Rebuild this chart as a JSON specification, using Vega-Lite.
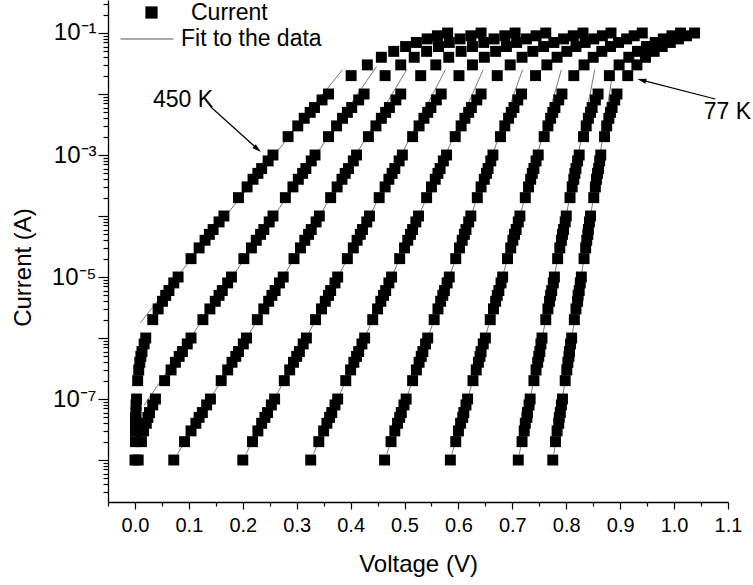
{
"$schema":"https://vega.github.io/schema/vega-lite/v6.json",
"width":620,"height":502,
"autosize":{"type":"none"},
"padding":{"left":108,"top":0,"right":25,"bottom":83},
"config":{"view":{"stroke":null},"font":"Liberation Sans",
 "axis":{"grid":false,"domainColor":"black","tickColor":"black","labelColor":"black","titleColor":"black","domainWidth":1.3,"tickWidth":1.2,"labelFont":"Liberation Sans","titleFont":"Liberation Sans","titleFontWeight":"normal","titleFontSize":24,"labelOverlap":false,"labelFlush":false},
 "legend":{"labelFont":"Liberation Sans","labelColor":"black","labelFontSize":23,"padding":0}},
"datasets":{
"pts":[
{"c":1,"v":0,"i":1e-8},{"c":1,"v":0.001,"i":2e-8},{"c":1,"v":0.001,"i":3e-8},{"c":1,"v":0.001,"i":4e-8},{"c":1,"v":0.001,"i":5e-8},{"c":1,"v":0.002,"i":6e-8},{"c":1,"v":0.002,"i":8e-8},{"c":1,"v":0.003,"i":1e-7},
{"c":1,"v":0.005,"i":2e-7},{"c":1,"v":0.007,"i":3e-7},{"c":1,"v":0.009,"i":4e-7},{"c":1,"v":0.011,"i":5e-7},{"c":1,"v":0.013,"i":6e-7},{"c":1,"v":0.017,"i":8e-7},{"c":1,"v":0.02,"i":1e-6},
{"c":1,"v":0.033,"i":2e-6},{"c":1,"v":0.043,"i":3e-6},{"c":1,"v":0.051,"i":4e-6},{"c":1,"v":0.057,"i":5e-6},{"c":1,"v":0.063,"i":6e-6},{"c":1,"v":0.072,"i":8e-6},{"c":1,"v":0.08,"i":1e-5},
{"c":1,"v":0.104,"i":2e-5},{"c":1,"v":0.119,"i":3e-5},{"c":1,"v":0.13,"i":4e-5},{"c":1,"v":0.138,"i":5e-5},{"c":1,"v":0.145,"i":6e-5},{"c":1,"v":0.156,"i":8e-5},{"c":1,"v":0.165,"i":1e-4},
{"c":1,"v":0.192,"i":2e-4},{"c":1,"v":0.208,"i":3e-4},{"c":1,"v":0.219,"i":4e-4},{"c":1,"v":0.228,"i":5e-4},{"c":1,"v":0.235,"i":6e-4},{"c":1,"v":0.247,"i":8e-4},{"c":1,"v":0.256,"i":0.001},
{"c":1,"v":0.284,"i":0.002},{"c":1,"v":0.302,"i":0.003},{"c":1,"v":0.314,"i":0.004},{"c":1,"v":0.325,"i":0.005},{"c":1,"v":0.333,"i":0.006},{"c":1,"v":0.347,"i":0.008},{"c":1,"v":0.359,"i":0.01},
{"c":1,"v":0.401,"i":0.02},{"c":1,"v":0.431,"i":0.03},{"c":1,"v":0.457,"i":0.04},{"c":1,"v":0.48,"i":0.05},{"c":1,"v":0.502,"i":0.06},{"c":1,"v":0.522,"i":0.07},{"c":1,"v":0.542,"i":0.08},{"c":1,"v":0.561,"i":0.09},{"c":1,"v":0.58,"i":0.1},
{"c":2,"v":0.006,"i":1e-8},{"c":2,"v":0.012,"i":2e-8},{"c":2,"v":0.016,"i":3e-8},{"c":2,"v":0.021,"i":4e-8},{"c":2,"v":0.024,"i":5e-8},{"c":2,"v":0.027,"i":6e-8},{"c":2,"v":0.033,"i":8e-8},{"c":2,"v":0.038,"i":1e-7},
{"c":2,"v":0.055,"i":2e-7},{"c":2,"v":0.067,"i":3e-7},{"c":2,"v":0.075,"i":4e-7},{"c":2,"v":0.082,"i":5e-7},{"c":2,"v":0.088,"i":6e-7},{"c":2,"v":0.097,"i":8e-7},{"c":2,"v":0.104,"i":1e-6},
{"c":2,"v":0.126,"i":2e-6},{"c":2,"v":0.139,"i":3e-6},{"c":2,"v":0.149,"i":4e-6},{"c":2,"v":0.156,"i":5e-6},{"c":2,"v":0.162,"i":6e-6},{"c":2,"v":0.172,"i":8e-6},{"c":2,"v":0.179,"i":1e-5},
{"c":2,"v":0.202,"i":2e-5},{"c":2,"v":0.216,"i":3e-5},{"c":2,"v":0.225,"i":4e-5},{"c":2,"v":0.233,"i":5e-5},{"c":2,"v":0.239,"i":6e-5},{"c":2,"v":0.249,"i":8e-5},{"c":2,"v":0.256,"i":1e-4},
{"c":2,"v":0.279,"i":2e-4},{"c":2,"v":0.293,"i":3e-4},{"c":2,"v":0.303,"i":4e-4},{"c":2,"v":0.311,"i":5e-4},{"c":2,"v":0.317,"i":6e-4},{"c":2,"v":0.327,"i":8e-4},{"c":2,"v":0.334,"i":0.001},
{"c":2,"v":0.359,"i":0.002},{"c":2,"v":0.374,"i":0.003},{"c":2,"v":0.385,"i":0.004},{"c":2,"v":0.394,"i":0.005},{"c":2,"v":0.402,"i":0.006},{"c":2,"v":0.415,"i":0.008},{"c":2,"v":0.425,"i":0.01},
{"c":2,"v":0.464,"i":0.02},{"c":2,"v":0.493,"i":0.03},{"c":2,"v":0.518,"i":0.04},{"c":2,"v":0.541,"i":0.05},{"c":2,"v":0.563,"i":0.06},{"c":2,"v":0.583,"i":0.07},{"c":2,"v":0.603,"i":0.08},{"c":2,"v":0.623,"i":0.09},{"c":2,"v":0.642,"i":0.1},
{"c":3,"v":0.072,"i":1e-8},{"c":3,"v":0.092,"i":2e-8},{"c":3,"v":0.104,"i":3e-8},{"c":3,"v":0.113,"i":4e-8},{"c":3,"v":0.119,"i":5e-8},{"c":3,"v":0.125,"i":6e-8},{"c":3,"v":0.133,"i":8e-8},{"c":3,"v":0.14,"i":1e-7},
{"c":3,"v":0.16,"i":2e-7},{"c":3,"v":0.172,"i":3e-7},{"c":3,"v":0.18,"i":4e-7},{"c":3,"v":0.187,"i":5e-7},{"c":3,"v":0.192,"i":6e-7},{"c":3,"v":0.201,"i":8e-7},{"c":3,"v":0.207,"i":1e-6},
{"c":3,"v":0.227,"i":2e-6},{"c":3,"v":0.239,"i":3e-6},{"c":3,"v":0.248,"i":4e-6},{"c":3,"v":0.254,"i":5e-6},{"c":3,"v":0.26,"i":6e-6},{"c":3,"v":0.268,"i":8e-6},{"c":3,"v":0.275,"i":1e-5},
{"c":3,"v":0.295,"i":2e-5},{"c":3,"v":0.307,"i":3e-5},{"c":3,"v":0.315,"i":4e-5},{"c":3,"v":0.322,"i":5e-5},{"c":3,"v":0.327,"i":6e-5},{"c":3,"v":0.336,"i":8e-5},{"c":3,"v":0.342,"i":1e-4},
{"c":3,"v":0.363,"i":2e-4},{"c":3,"v":0.375,"i":3e-4},{"c":3,"v":0.384,"i":4e-4},{"c":3,"v":0.39,"i":5e-4},{"c":3,"v":0.396,"i":6e-4},{"c":3,"v":0.405,"i":8e-4},{"c":3,"v":0.411,"i":0.001},
{"c":3,"v":0.433,"i":0.002},{"c":3,"v":0.447,"i":0.003},{"c":3,"v":0.457,"i":0.004},{"c":3,"v":0.465,"i":0.005},{"c":3,"v":0.472,"i":0.006},{"c":3,"v":0.484,"i":0.008},{"c":3,"v":0.493,"i":0.01},
{"c":3,"v":0.53,"i":0.02},{"c":3,"v":0.558,"i":0.03},{"c":3,"v":0.582,"i":0.04},{"c":3,"v":0.605,"i":0.05},{"c":3,"v":0.626,"i":0.06},{"c":3,"v":0.647,"i":0.07},{"c":3,"v":0.666,"i":0.08},{"c":3,"v":0.686,"i":0.09},{"c":3,"v":0.705,"i":0.1},
{"c":4,"v":0.2,"i":1e-8},{"c":4,"v":0.218,"i":2e-8},{"c":4,"v":0.228,"i":3e-8},{"c":4,"v":0.235,"i":4e-8},{"c":4,"v":0.241,"i":5e-8},{"c":4,"v":0.246,"i":6e-8},{"c":4,"v":0.253,"i":8e-8},{"c":4,"v":0.259,"i":1e-7},
{"c":4,"v":0.277,"i":2e-7},{"c":4,"v":0.287,"i":3e-7},{"c":4,"v":0.294,"i":4e-7},{"c":4,"v":0.3,"i":5e-7},{"c":4,"v":0.305,"i":6e-7},{"c":4,"v":0.312,"i":8e-7},{"c":4,"v":0.318,"i":1e-6},
{"c":4,"v":0.335,"i":2e-6},{"c":4,"v":0.346,"i":3e-6},{"c":4,"v":0.353,"i":4e-6},{"c":4,"v":0.359,"i":5e-6},{"c":4,"v":0.363,"i":6e-6},{"c":4,"v":0.371,"i":8e-6},{"c":4,"v":0.376,"i":1e-5},
{"c":4,"v":0.394,"i":2e-5},{"c":4,"v":0.405,"i":3e-5},{"c":4,"v":0.412,"i":4e-5},{"c":4,"v":0.418,"i":5e-5},{"c":4,"v":0.422,"i":6e-5},{"c":4,"v":0.43,"i":8e-5},{"c":4,"v":0.435,"i":1e-4},
{"c":4,"v":0.453,"i":2e-4},{"c":4,"v":0.464,"i":3e-4},{"c":4,"v":0.471,"i":4e-4},{"c":4,"v":0.477,"i":5e-4},{"c":4,"v":0.482,"i":6e-4},{"c":4,"v":0.49,"i":8e-4},{"c":4,"v":0.496,"i":0.001},
{"c":4,"v":0.515,"i":0.002},{"c":4,"v":0.527,"i":0.003},{"c":4,"v":0.536,"i":0.004},{"c":4,"v":0.543,"i":0.005},{"c":4,"v":0.549,"i":0.006},{"c":4,"v":0.559,"i":0.008},{"c":4,"v":0.568,"i":0.01},
{"c":4,"v":0.601,"i":0.02},{"c":4,"v":0.626,"i":0.03},{"c":4,"v":0.648,"i":0.04},{"c":4,"v":0.669,"i":0.05},{"c":4,"v":0.689,"i":0.06},{"c":4,"v":0.708,"i":0.07},{"c":4,"v":0.726,"i":0.08},{"c":4,"v":0.744,"i":0.09},{"c":4,"v":0.762,"i":0.1},
{"c":5,"v":0.326,"i":1e-8},{"c":5,"v":0.341,"i":2e-8},{"c":5,"v":0.35,"i":3e-8},{"c":5,"v":0.356,"i":4e-8},{"c":5,"v":0.361,"i":5e-8},{"c":5,"v":0.365,"i":6e-8},{"c":5,"v":0.371,"i":8e-8},{"c":5,"v":0.376,"i":1e-7},
{"c":5,"v":0.391,"i":2e-7},{"c":5,"v":0.4,"i":3e-7},{"c":5,"v":0.406,"i":4e-7},{"c":5,"v":0.411,"i":5e-7},{"c":5,"v":0.415,"i":6e-7},{"c":5,"v":0.421,"i":8e-7},{"c":5,"v":0.426,"i":1e-6},
{"c":5,"v":0.441,"i":2e-6},{"c":5,"v":0.45,"i":3e-6},{"c":5,"v":0.456,"i":4e-6},{"c":5,"v":0.461,"i":5e-6},{"c":5,"v":0.465,"i":6e-6},{"c":5,"v":0.471,"i":8e-6},{"c":5,"v":0.476,"i":1e-5},
{"c":5,"v":0.491,"i":2e-5},{"c":5,"v":0.5,"i":3e-5},{"c":5,"v":0.506,"i":4e-5},{"c":5,"v":0.511,"i":5e-5},{"c":5,"v":0.515,"i":6e-5},{"c":5,"v":0.521,"i":8e-5},{"c":5,"v":0.526,"i":1e-4},
{"c":5,"v":0.541,"i":2e-4},{"c":5,"v":0.55,"i":3e-4},{"c":5,"v":0.557,"i":4e-4},{"c":5,"v":0.562,"i":5e-4},{"c":5,"v":0.566,"i":6e-4},{"c":5,"v":0.572,"i":8e-4},{"c":5,"v":0.578,"i":0.001},
{"c":5,"v":0.594,"i":0.002},{"c":5,"v":0.605,"i":0.003},{"c":5,"v":0.612,"i":0.004},{"c":5,"v":0.619,"i":0.005},{"c":5,"v":0.624,"i":0.006},{"c":5,"v":0.634,"i":0.008},{"c":5,"v":0.642,"i":0.01},
{"c":5,"v":0.672,"i":0.02},{"c":5,"v":0.696,"i":0.03},{"c":5,"v":0.718,"i":0.04},{"c":5,"v":0.738,"i":0.05},{"c":5,"v":0.758,"i":0.06},{"c":5,"v":0.777,"i":0.07},{"c":5,"v":0.795,"i":0.08},{"c":5,"v":0.813,"i":0.09},{"c":5,"v":0.831,"i":0.1},
{"c":6,"v":0.463,"i":1e-8},{"c":6,"v":0.475,"i":2e-8},{"c":6,"v":0.482,"i":3e-8},{"c":6,"v":0.487,"i":4e-8},{"c":6,"v":0.491,"i":5e-8},{"c":6,"v":0.494,"i":6e-8},{"c":6,"v":0.499,"i":8e-8},{"c":6,"v":0.503,"i":1e-7},
{"c":6,"v":0.515,"i":2e-7},{"c":6,"v":0.522,"i":3e-7},{"c":6,"v":0.527,"i":4e-7},{"c":6,"v":0.531,"i":5e-7},{"c":6,"v":0.534,"i":6e-7},{"c":6,"v":0.539,"i":8e-7},{"c":6,"v":0.543,"i":1e-6},
{"c":6,"v":0.555,"i":2e-6},{"c":6,"v":0.562,"i":3e-6},{"c":6,"v":0.567,"i":4e-6},{"c":6,"v":0.571,"i":5e-6},{"c":6,"v":0.574,"i":6e-6},{"c":6,"v":0.579,"i":8e-6},{"c":6,"v":0.583,"i":1e-5},
{"c":6,"v":0.595,"i":2e-5},{"c":6,"v":0.602,"i":3e-5},{"c":6,"v":0.607,"i":4e-5},{"c":6,"v":0.611,"i":5e-5},{"c":6,"v":0.614,"i":6e-5},{"c":6,"v":0.619,"i":8e-5},{"c":6,"v":0.623,"i":1e-4},
{"c":6,"v":0.635,"i":2e-4},{"c":6,"v":0.642,"i":3e-4},{"c":6,"v":0.648,"i":4e-4},{"c":6,"v":0.652,"i":5e-4},{"c":6,"v":0.655,"i":6e-4},{"c":6,"v":0.66,"i":8e-4},{"c":6,"v":0.664,"i":0.001},
{"c":6,"v":0.678,"i":0.002},{"c":6,"v":0.686,"i":0.003},{"c":6,"v":0.693,"i":0.004},{"c":6,"v":0.698,"i":0.005},{"c":6,"v":0.703,"i":0.006},{"c":6,"v":0.71,"i":0.008},{"c":6,"v":0.717,"i":0.01},
{"c":6,"v":0.743,"i":0.02},{"c":6,"v":0.764,"i":0.03},{"c":6,"v":0.783,"i":0.04},{"c":6,"v":0.801,"i":0.05},{"c":6,"v":0.818,"i":0.06},{"c":6,"v":0.835,"i":0.07},{"c":6,"v":0.851,"i":0.08},{"c":6,"v":0.867,"i":0.09},{"c":6,"v":0.883,"i":0.1},
{"c":7,"v":0.585,"i":1e-8},{"c":7,"v":0.595,"i":2e-8},{"c":7,"v":0.6,"i":3e-8},{"c":7,"v":0.604,"i":4e-8},{"c":7,"v":0.608,"i":5e-8},{"c":7,"v":0.61,"i":6e-8},{"c":7,"v":0.614,"i":8e-8},{"c":7,"v":0.617,"i":1e-7},
{"c":7,"v":0.627,"i":2e-7},{"c":7,"v":0.633,"i":3e-7},{"c":7,"v":0.637,"i":4e-7},{"c":7,"v":0.64,"i":5e-7},{"c":7,"v":0.642,"i":6e-7},{"c":7,"v":0.646,"i":8e-7},{"c":7,"v":0.65,"i":1e-6},
{"c":7,"v":0.659,"i":2e-6},{"c":7,"v":0.665,"i":3e-6},{"c":7,"v":0.669,"i":4e-6},{"c":7,"v":0.672,"i":5e-6},{"c":7,"v":0.675,"i":6e-6},{"c":7,"v":0.679,"i":8e-6},{"c":7,"v":0.682,"i":1e-5},
{"c":7,"v":0.691,"i":2e-5},{"c":7,"v":0.697,"i":3e-5},{"c":7,"v":0.701,"i":4e-5},{"c":7,"v":0.704,"i":5e-5},{"c":7,"v":0.707,"i":6e-5},{"c":7,"v":0.711,"i":8e-5},{"c":7,"v":0.714,"i":1e-4},
{"c":7,"v":0.724,"i":2e-4},{"c":7,"v":0.73,"i":3e-4},{"c":7,"v":0.734,"i":4e-4},{"c":7,"v":0.737,"i":5e-4},{"c":7,"v":0.74,"i":6e-4},{"c":7,"v":0.744,"i":8e-4},{"c":7,"v":0.748,"i":0.001},
{"c":7,"v":0.759,"i":0.002},{"c":7,"v":0.766,"i":0.003},{"c":7,"v":0.771,"i":0.004},{"c":7,"v":0.775,"i":0.005},{"c":7,"v":0.779,"i":0.006},{"c":7,"v":0.786,"i":0.008},{"c":7,"v":0.792,"i":0.01},
{"c":7,"v":0.814,"i":0.02},{"c":7,"v":0.833,"i":0.03},{"c":7,"v":0.85,"i":0.04},{"c":7,"v":0.866,"i":0.05},{"c":7,"v":0.882,"i":0.06},{"c":7,"v":0.897,"i":0.07},{"c":7,"v":0.912,"i":0.08},{"c":7,"v":0.926,"i":0.09},{"c":7,"v":0.941,"i":0.1},
{"c":8,"v":0.711,"i":1e-8},{"c":8,"v":0.718,"i":2e-8},{"c":8,"v":0.722,"i":3e-8},{"c":8,"v":0.724,"i":4e-8},{"c":8,"v":0.727,"i":5e-8},{"c":8,"v":0.728,"i":6e-8},{"c":8,"v":0.731,"i":8e-8},{"c":8,"v":0.733,"i":1e-7},
{"c":8,"v":0.74,"i":2e-7},{"c":8,"v":0.744,"i":3e-7},{"c":8,"v":0.747,"i":4e-7},{"c":8,"v":0.749,"i":5e-7},{"c":8,"v":0.751,"i":6e-7},{"c":8,"v":0.753,"i":8e-7},{"c":8,"v":0.755,"i":1e-6},
{"c":8,"v":0.762,"i":2e-6},{"c":8,"v":0.766,"i":3e-6},{"c":8,"v":0.769,"i":4e-6},{"c":8,"v":0.771,"i":5e-6},{"c":8,"v":0.773,"i":6e-6},{"c":8,"v":0.776,"i":8e-6},{"c":8,"v":0.778,"i":1e-5},
{"c":8,"v":0.784,"i":2e-5},{"c":8,"v":0.788,"i":3e-5},{"c":8,"v":0.791,"i":4e-5},{"c":8,"v":0.793,"i":5e-5},{"c":8,"v":0.795,"i":6e-5},{"c":8,"v":0.798,"i":8e-5},{"c":8,"v":0.8,"i":1e-4},
{"c":8,"v":0.807,"i":2e-4},{"c":8,"v":0.811,"i":3e-4},{"c":8,"v":0.814,"i":4e-4},{"c":8,"v":0.816,"i":5e-4},{"c":8,"v":0.818,"i":6e-4},{"c":8,"v":0.821,"i":8e-4},{"c":8,"v":0.824,"i":0.001},
{"c":8,"v":0.832,"i":0.002},{"c":8,"v":0.837,"i":0.003},{"c":8,"v":0.841,"i":0.004},{"c":8,"v":0.845,"i":0.005},{"c":8,"v":0.848,"i":0.006},{"c":8,"v":0.854,"i":0.008},{"c":8,"v":0.859,"i":0.01},
{"c":8,"v":0.88,"i":0.02},{"c":8,"v":0.898,"i":0.03},{"c":8,"v":0.916,"i":0.04},{"c":8,"v":0.932,"i":0.05},{"c":8,"v":0.949,"i":0.06},{"c":8,"v":0.965,"i":0.07},{"c":8,"v":0.98,"i":0.08},{"c":8,"v":0.996,"i":0.09},{"c":8,"v":1.012,"i":0.1},
{"c":9,"v":0.775,"i":1e-8},{"c":9,"v":0.78,"i":2e-8},{"c":9,"v":0.783,"i":3e-8},{"c":9,"v":0.786,"i":4e-8},{"c":9,"v":0.787,"i":5e-8},{"c":9,"v":0.789,"i":6e-8},{"c":9,"v":0.791,"i":8e-8},{"c":9,"v":0.793,"i":1e-7},
{"c":9,"v":0.798,"i":2e-7},{"c":9,"v":0.801,"i":3e-7},{"c":9,"v":0.803,"i":4e-7},{"c":9,"v":0.805,"i":5e-7},{"c":9,"v":0.806,"i":6e-7},{"c":9,"v":0.808,"i":8e-7},{"c":9,"v":0.81,"i":1e-6},
{"c":9,"v":0.815,"i":2e-6},{"c":9,"v":0.818,"i":3e-6},{"c":9,"v":0.821,"i":4e-6},{"c":9,"v":0.822,"i":5e-6},{"c":9,"v":0.824,"i":6e-6},{"c":9,"v":0.826,"i":8e-6},{"c":9,"v":0.828,"i":1e-5},
{"c":9,"v":0.833,"i":2e-5},{"c":9,"v":0.836,"i":3e-5},{"c":9,"v":0.838,"i":4e-5},{"c":9,"v":0.84,"i":5e-5},{"c":9,"v":0.841,"i":6e-5},{"c":9,"v":0.843,"i":8e-5},{"c":9,"v":0.845,"i":1e-4},
{"c":9,"v":0.851,"i":2e-4},{"c":9,"v":0.854,"i":3e-4},{"c":9,"v":0.856,"i":4e-4},{"c":9,"v":0.858,"i":5e-4},{"c":9,"v":0.86,"i":6e-4},{"c":9,"v":0.862,"i":8e-4},{"c":9,"v":0.864,"i":0.001},
{"c":9,"v":0.871,"i":0.002},{"c":9,"v":0.875,"i":0.003},{"c":9,"v":0.879,"i":0.004},{"c":9,"v":0.882,"i":0.005},{"c":9,"v":0.885,"i":0.006},{"c":9,"v":0.89,"i":0.008},{"c":9,"v":0.894,"i":0.01},
{"c":9,"v":0.914,"i":0.02},{"c":9,"v":0.931,"i":0.03},{"c":9,"v":0.947,"i":0.04},{"c":9,"v":0.963,"i":0.05},{"c":9,"v":0.978,"i":0.06},{"c":9,"v":0.993,"i":0.07},{"c":9,"v":1.008,"i":0.08},{"c":9,"v":1.023,"i":0.09},{"c":9,"v":1.038,"i":0.1}
],
"fit":[
{"c":1,"v":0.010,"i":1.78e-6},{"c":1,"v":0.385,"i":0.0251},
{"c":2,"v":0.017,"i":7.94e-8},{"c":2,"v":0.448,"i":0.0282},
{"c":3,"v":0.079,"i":1.26e-8},{"c":3,"v":0.504,"i":0.0251},
{"c":4,"v":0.206,"i":1.26e-8},{"c":4,"v":0.576,"i":0.0251},
{"c":5,"v":0.331,"i":1.26e-8},{"c":5,"v":0.646,"i":0.0251},
{"c":6,"v":0.467,"i":1.26e-8},{"c":6,"v":0.719,"i":0.0251},
{"c":7,"v":0.588,"i":1.26e-8},{"c":7,"v":0.791,"i":0.0251},
{"c":8,"v":0.713,"i":1.26e-8},{"c":8,"v":0.853,"i":0.0251},
{"c":9,"v":0.777,"i":1.26e-8},{"c":9,"v":0.887,"i":0.0251}
],
"arrows":[
{"v":0.1408,"i":0.00612,"v2":0.2257,"i2":0.00129},
{"v":1.0765,"i":0.00828,"v2":0.942,"i2":0.0167}
],
"notes":[
{"v":0.089,"i":0.0079,"t":"450 K"},
{"v":1.099,"i":0.00507,"t":"77 K"}
]
},
"encoding":{
 "x":{"field":"v","type":"quantitative","scale":{"domain":[-0.05,1.1],"nice":false,"zero":false},
  "axis":{"title":"Voltage (V)","values":[-0.05,0,0.05,0.1,0.15,0.2,0.25,0.3,0.35,0.4,0.45,0.5,0.55,0.6,0.65,0.7,0.75,0.8,0.85,0.9,0.95,1.0,1.05,1.1],
   "labelExpr":"abs(datum.value*10 - round(datum.value*10)) < 0.01 ? format(datum.value, '.1f') : ''",
   "tickSize":{"condition":{"test":"abs(datum.value*10 - round(datum.value*10)) < 0.01","value":7},"value":4},
   "labelFontSize":20,"labelPadding":6,"titleX":310,"titleY":62,"titleBaseline":"middle","titleAlign":"center"}},
 "y":{"field":"i","type":"quantitative","scale":{"type":"log","domain":[2.05e-9,0.3475],"nice":false},
  "axis":{"title":"Current (A)","values":[3e-9,4e-9,5e-9,6e-9,7e-9,8e-9,9e-9,1e-8,2e-8,3e-8,4e-8,5e-8,6e-8,7e-8,8e-8,9e-8,1e-7,2e-7,3e-7,4e-7,5e-7,6e-7,7e-7,8e-7,9e-7,1e-6,2e-6,3e-6,4e-6,5e-6,6e-6,7e-6,8e-6,9e-6,1e-5,2e-5,3e-5,4e-5,5e-5,6e-5,7e-5,8e-5,9e-5,1e-4,2e-4,3e-4,4e-4,5e-4,6e-4,7e-4,8e-4,9e-4,0.001,0.002,0.003,0.004,0.005,0.006,0.007,0.008,0.009,0.01,0.02,0.03,0.04,0.05,0.06,0.07,0.08,0.09,0.1,0.2,0.3],
   "labelExpr":"datum.value > 0.09 && datum.value < 0.11 ? '10\u207b\u00b9' : datum.value > 9e-4 && datum.value < 1.1e-3 ? '10\u207b\u00b3' : datum.value > 9e-6 && datum.value < 1.1e-5 ? '10\u207b\u2075' : datum.value > 9e-8 && datum.value < 1.1e-7 ? '10\u207b\u2077' : ''",
   "tickSize":{"condition":{"test":"abs(log(datum.value)/LN10 - round(log(datum.value)/LN10)) < 0.01","value":10},"value":5},
   "labelFontSize":24,"labelPadding":2,"titleX":-85,"titleY":267,"titleBaseline":"middle","titleAlign":"center","titleAngle":270}}
},
"layer":[
 {"data":{"name":"fit"},"mark":{"type":"line","strokeWidth":0.8},
  "encoding":{"detail":{"field":"c"},
   "color":{"datum":"Fit to the data","scale":{"range":["#555555"]},
    "legend":{"orient":"none","legendX":12,"legendY":12,"title":null,"symbolType":"stroke","symbolSize":2809,"symbolStrokeWidth":1,"symbolStrokeColor":"#555555","labelOffset":7}}}},
 {"data":{"name":"pts"},"mark":{"type":"point","shape":"square","filled":true,"color":"black","size":120,"opacity":1},
  "encoding":{"shape":{"datum":"Current","scale":{"range":["square"]},
   "legend":{"orient":"none","legendX":32,"legendY":1,"title":null,"symbolSize":150,"symbolFillColor":"black","symbolStrokeWidth":0,"labelOffset":28}}}},
 {"data":{"name":"arrows"},"mark":{"type":"rule","color":"black","strokeWidth":1.2},
  "encoding":{"x2":{"field":"v2"},"y2":{"field":"i2"}}},
 {"data":{"name":"arrows"},"transform":[{"filter":"datum.v < 0.5"}],"mark":{"type":"point","shape":"M0,-1L0.45,0.6L-0.45,0.6Z","filled":true,"color":"black","size":126,"angle":132,"opacity":1},
  "encoding":{"x":{"field":"v2","type":"quantitative"},"y":{"field":"i2","type":"quantitative"}}},
 {"data":{"name":"arrows"},"transform":[{"filter":"datum.v > 0.5"}],"mark":{"type":"point","shape":"M0,-1L0.45,0.6L-0.45,0.6Z","filled":true,"color":"black","size":126,"angle":284,"opacity":1},
  "encoding":{"x":{"field":"v2","type":"quantitative"},"y":{"field":"i2","type":"quantitative"}}},
 {"data":{"name":"notes"},"mark":{"type":"text","fontSize":23,"font":"Liberation Sans","color":"black","align":"center","baseline":"middle"},
  "encoding":{"text":{"field":"t"}}}
]
}
